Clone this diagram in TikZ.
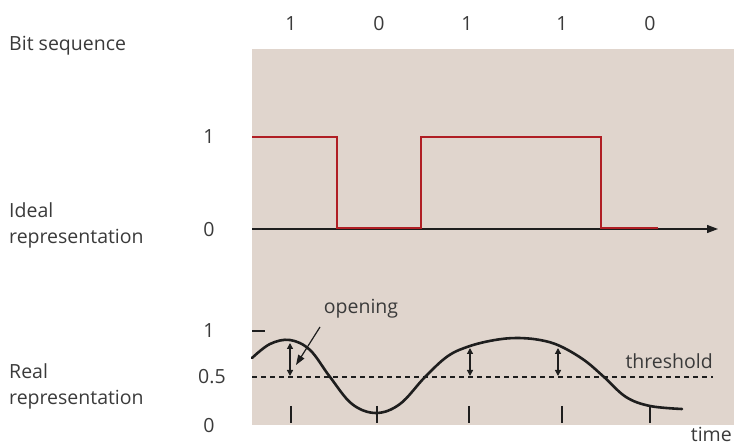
\documentclass[tikz,border=0pt]{standalone}
\usepackage{fontspec}
\setmainfont{Open Sans}
\usetikzlibrary{arrows.meta}
\definecolor{bgc}{HTML}{E0D5CD}
\definecolor{redc}{HTML}{B01E24}
\definecolor{txt}{HTML}{3A3A3A}
\definecolor{ink}{HTML}{1E1E1E}
\begin{document}
\begin{tikzpicture}[x=1pt,y=-1pt,
  lbl/.style={text=txt,font=\fontsize{19.5}{26}\selectfont,inner sep=0pt},
  lleft/.style={lbl,anchor=west,align=left},
  sig/.style={line width=2.8pt,line join=miter},
  dbl/.style={line width=1.3pt,draw=ink,{Triangle[length=6pt,width=6pt]}-{Triangle[length=6pt,width=6pt]}},
  tick/.style={line width=1.1pt,draw=ink}]
\useasboundingbox (0,0) rectangle (734,446);
\fill[bgc] (252,49) rectangle (734,425);
% top bit labels
\node[lbl] (b1) at (291,24) {1};
\node[lbl] (b2) at (379,24) {0};
\node[lbl] (b3) at (467,24) {1};
\node[lbl] (b4) at (562,24) {1};
\node[lbl] (b5) at (650,24) {0};
% left labels
\node[lleft] (bitseq) at (9,46) {Bit sequence};
\node[lleft] (ideal) at (9,225) {Ideal\\representation};
\node[lleft] (real) at (9,386) {Real\\representation};
\node[lbl] (i1) at (209,137) {1};
\node[lbl] (i0) at (209,230) {0};
\node[lbl] (r1) at (209,331) {1};
\node[lbl,anchor=west] (r05) at (198,377) {0.5};
\node[lbl] (r0) at (209,426) {0};
% ideal axis
\coordinate (ax0) at (252,229);
\coordinate (ax1) at (718,229);
\draw[line width=1.2pt,draw=ink,-{Triangle[length=11pt,width=8pt]}] (ax0) -- (ax1);
% ideal signal
\draw[sig,redc] (252,137) -- (337,137) -- (337,228) -- (421,228) -- (421,137) -- (601,137) -- (601,228) -- (658,228);
% real: level 1 dash
\draw[line width=1.2pt,draw=ink] (252,331) -- (265,331);
% threshold
\draw[line width=1.2pt,draw=ink,dash pattern=on 5pt off 4pt] (252,377) -- (713,377);
\node[lbl,anchor=south east] (thr) at (713,369) {threshold};
% curve
\draw[line width=2.6pt,draw=ink,line cap=round] plot[smooth,tension=0.6] coordinates {
 (252,358) (270,344) (290,340) (310,350) (330,377) (352,404) (376,413) (400,404) (425,377)
 (448,356) (470,346) (495,340) (517,338) (540,340) (560,346) (584,360) (604,377) (626,397)
 (650,406) (682,409)};
% ticks
\foreach \xx in {291,377,469,562,650} \draw[tick] (\xx,406) -- (\xx,423);
% openings
\coordinate (o1a) at (290,343); \coordinate (o1b) at (290,376);
\coordinate (o2a) at (470,348); \coordinate (o2b) at (470,376);
\coordinate (o3a) at (558,348); \coordinate (o3b) at (558,376);
\draw[dbl] (o1a) -- (o1b);
\draw[dbl] (o2a) -- (o2b);
\draw[dbl] (o3a) -- (o3b);
\node[lbl] (open) at (361,309) {opening};
\coordinate (optip) at (296,365);
\draw[line width=1.2pt,draw=ink,-{Triangle[length=10pt,width=7pt]}] (320,327) -- (optip);
\node[lbl,anchor=east] (time) at (732,434) {time};
\end{tikzpicture}
\end{document}
